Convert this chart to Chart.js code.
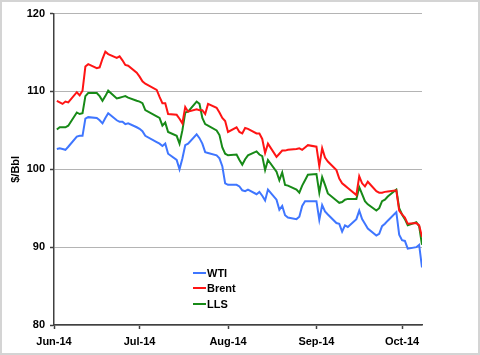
<!DOCTYPE html>
<html>
<head>
<meta charset="utf-8">
<script src="https://cdn.jsdelivr.net/npm/chart.js@4.4.1/dist/chart.umd.min.js"></script>
<style>
  html, body { margin: 0; padding: 0; background: #fff; }
  #wrap { width: 480px; height: 355px; box-sizing: border-box; border: 2px solid #d4d4d4; background: #fff; }
  canvas { display: block; }
</style>
</head>
<body>
<div id="wrap"><canvas id="c" width="476" height="351"></canvas></div>
<script>
// Day offsets from Jun 1, 2014 (trading days)
const days = [1,2,3,4,5,8,9,10,11,12,15,16,17,18,19,22,23,24,25,26,29,
  30,31,32,36,37,38,39,40,43,44,45,46,47,50,51,52,53,54,57,58,59,60,
  61,64,65,66,67,68,71,72,73,74,75,78,79,80,81,82,85,86,87,88,89,
  92,93,94,95,96,99,100,101,102,103,106,107,108,109,110,113,114,115,116,117,120,121,
  122,123,124,127,128,129];

const wti = [102.6,102.7,102.6,102.5,102.9,104.2,104.3,104.3,106.5,106.7,106.6,106.3,105.9,106.6,107.2,106.3,106.1,106.1,105.8,105.9,105.4,
  105.2,104.9,104.3,103.5,103.3,103.0,103.3,102.0,101.2,100.0,101.4,103.1,103.3,104.5,104.0,103.3,102.2,102.1,101.8,101.4,100.4,98.2,
  98.0,98.0,97.8,97.3,97.2,97.4,96.8,97.1,96.6,96.0,97.4,96.1,94.8,95.3,94.1,93.8,93.6,93.9,95.3,95.9,95.9,
  95.9,93.5,95.4,94.6,94.2,93.1,93.0,92.0,92.8,92.6,93.6,94.7,93.6,93.0,92.4,91.5,91.7,92.7,93.0,93.4,94.5,91.6,
  90.9,90.8,89.8,90.0,90.3,87.4];

const brent = [108.8,108.6,108.4,108.7,108.6,109.9,109.5,110.1,113.2,113.5,113.0,113.1,114.2,115.1,114.8,114.3,114.5,114.0,113.4,113.3,112.4,
  111.9,111.3,111.0,110.2,109.3,108.5,108.5,107.1,107.0,106.5,105.9,108.0,107.4,107.7,107.6,107.6,107.1,108.4,107.9,107.3,106.6,106.2,
  104.8,105.4,104.8,104.6,105.3,105.2,104.6,104.6,103.9,102.1,103.3,101.6,102.0,102.4,102.4,102.5,102.6,102.7,102.5,102.8,103.1,
  102.9,100.4,102.7,101.5,101.0,99.9,98.8,98.2,97.9,97.6,96.7,99.1,98.2,97.8,98.4,97.2,97.0,97.0,97.1,97.15,97.3,94.7,
  94.2,93.8,93.0,93.1,92.8,91.3];

const lls = [105.1,105.4,105.4,105.4,105.6,107.3,107.1,107.2,109.4,109.8,109.8,109.4,108.8,109.4,110.1,109.1,109.2,109.3,109.4,109.2,108.8,
  108.7,108.5,107.6,106.8,106.6,105.6,106.0,104.8,104.3,103.3,105.0,107.3,107.4,108.7,108.4,106.6,105.8,105.6,105.0,104.4,102.8,102.0,
  101.8,101.9,101.2,100.6,101.3,101.8,102.3,101.9,101.7,99.9,101.2,99.7,98.6,99.6,98.0,97.9,97.4,97.0,97.9,98.6,99.3,
  99.4,97.0,99.0,98.0,96.9,96.0,95.7,95.8,96.1,96.2,96.2,97.7,96.8,95.9,95.5,94.7,95.0,95.9,96.1,96.5,97.4,95.0,
  94.2,93.6,92.8,93.2,92.7,90.3];

const tickDays = [0, 30, 61, 92, 122];
const tickLabels = ['Jun-14', 'Jul-14', 'Aug-14', 'Sep-14', 'Oct-14'];
const seriesNames = ['WTI', 'Brent', 'LLS'];
const seriesColors = ['#3f76ff', '#ff1414', '#178a17'];

const FONT = '"Liberation Sans", Arial, sans-serif';

function toPts(vals) { return days.map((d, i) => ({ x: d, y: vals[i] })); }

const insideLegend = {
  id: 'insideLegend',
  afterDatasetsDraw(chart) {
    const { ctx, chartArea } = chart;
    const x0 = chartArea.left + 139, y0 = chartArea.top + 259, dy = 15.8;
    ctx.save();
    ctx.font = 'bold 11px ' + FONT;
    ctx.textBaseline = 'middle';
    ctx.textAlign = 'left';
    chart.data.datasets.forEach((ds, i) => {
      const y = Math.round(y0 + i * dy);
      ctx.strokeStyle = ds.borderColor;
      ctx.lineWidth = 2;
      ctx.beginPath();
      ctx.moveTo(x0, y);
      ctx.lineTo(x0 + 13, y);
      ctx.stroke();
      ctx.fillStyle = '#000';
      ctx.fillText(ds.label, x0 + 14, y + 0.5);
    });
    ctx.restore();
  }
};

new Chart(document.getElementById('c'), {
  type: 'line',
  data: {
    datasets: [
      { label: seriesNames[0], data: toPts(wti), borderColor: seriesColors[0] },
      { label: seriesNames[1], data: toPts(brent), borderColor: seriesColors[1] },
      { label: seriesNames[2], data: toPts(lls), borderColor: seriesColors[2] }
    ].map(d => Object.assign(d, { borderWidth: 2, pointRadius: 0, tension: 0, fill: false }))
  },
  options: {
    responsive: false,
    animation: false,
    layout: { padding: { top: 8, right: 56, bottom: 0, left: 0 } },
    plugins: { legend: { display: false }, tooltip: { enabled: false } },
    scales: {
      x: {
        type: 'linear',
        min: 0,
        max: 129,
        afterBuildTicks: (scale) => { scale.ticks = tickDays.map(v => ({ value: v })); },
        afterFit: (scale) => { scale.height = 28; },
        ticks: {
          autoSkip: false, maxRotation: 0, minRotation: 0, padding: 6,
          color: '#000', font: { family: FONT, size: 11, weight: 'bold' },
          callback: (v) => tickLabels[tickDays.indexOf(v)]
        },
        grid: { drawOnChartArea: false, drawTicks: true, tickLength: 4, tickColor: '#404040', tickWidth: 1.5 },
        border: { display: true, color: '#404040', width: 1.5 }
      },
      y: {
        min: 80,
        max: 120,
        afterFit: (scale) => { scale.width = 52; },
        ticks: {
          stepSize: 10, padding: 5,
          color: '#000', font: { family: FONT, size: 11, weight: 'bold' }
        },
        grid: { color: '#b4b4b4', lineWidth: 1, drawTicks: true, tickLength: 4, tickColor: '#404040', tickWidth: 1.5 },
        border: { display: true, color: '#404040', width: 1.5 },
        title: {
          display: true, text: '$/Bbl', color: '#000',
          font: { family: FONT, size: 11, weight: 'bold' },
          padding: { top: 7, bottom: 0 }
        }
      }
    }
  },
  plugins: [insideLegend]
});
</script>
</body>
</html>
